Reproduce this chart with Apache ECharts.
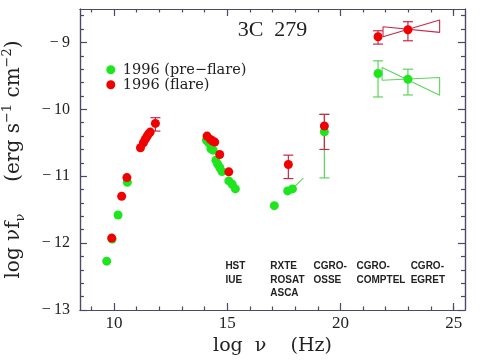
<!DOCTYPE html>
<html><head><meta charset="utf-8">
<script src="https://cdn.jsdelivr.net/npm/echarts@6/dist/echarts.min.js"></script>
<style>html,body{margin:0;padding:0;background:#fff}#c{width:483px;height:364px}</style>
</head><body><div id="c"></div>
<script>
// ---- axis ticks ----
const xMajorTicks = [10, 15, 20, 25];
const xMinorTicks = [9, 11, 12, 13, 14, 16, 17, 18, 19, 21, 22, 23, 24, 25];
const yMajorTicks = [-13, -12, -11, -10, -9];
const yMinorTicks = [-12.8, -12.6, -12.4, -12.2, -11.8, -11.6, -11.4, -11.2, -10.8, -10.6, -10.4, -10.2, -9.8, -9.6, -9.4, -9.2, -8.8, -8.6];

// ---- series names ----
const seriesNames = ['1996 (pre\u2212flare)', '1996 (flare)'];

// ---- data: [log nu, log nuFnu] ----
const preFlare = [
  [9.68, -12.27], [9.92, -11.94], [10.18, -11.58], [10.59, -11.09],
  [14.08, -10.46], [14.18, -10.50], [14.28, -10.59], [14.38, -10.61],
  [14.50, -10.76], [14.58, -10.82], [14.67, -10.87], [14.77, -10.93],
  [15.07, -11.07], [15.22, -11.12], [15.36, -11.19],
  [17.08, -11.44], [17.67, -11.22], [17.88, -11.19],
  [19.29, -10.335],
  [21.66, -9.465], [22.98, -9.55]
];
const flare = [
  [9.90, -11.925], [10.34, -11.30], [10.57, -11.02],
  [11.17, -10.575], [11.30, -10.50], [11.38, -10.45], [11.45, -10.41],
  [11.52, -10.37], [11.60, -10.34], [11.83, -10.21],
  [14.11, -10.40], [14.26, -10.45], [14.36, -10.475], [14.45, -10.49],
  [14.67, -10.675], [15.07, -10.935],
  [17.70, -10.825],
  [19.29, -10.25],
  [21.66, -8.915], [22.98, -8.81]
];
// error bars: [x, low, high]
const flareErr = [
  [11.83, -10.325, -10.125], [17.70, -11.035, -10.685], [19.29, -10.60, -10.075],
  [21.66, -9.025, -8.825], [22.98, -8.975, -8.69]
];
const preFlareErr = [
  [19.29, -11.025, -10.075], [21.66, -9.815, -9.275], [22.98, -9.785, -9.40]
];
// spectral bowties / slope
const flareBowtie = [[21.88, -8.765], [24.38, -8.85], [24.38, -8.665], [21.88, -8.915], [21.88, -8.765]];
const preFlareBowtie = [[21.84, -9.375], [24.38, -9.79], [24.38, -9.525], [21.84, -9.565], [21.84, -9.375]];
const xraySlope = [[17.88, -11.19], [18.36, -11.03]];

// instrument labels
const instNames = ['HST\nIUE', 'RXTE\nROSAT\nASCA', 'CGRO-\nOSSE', 'CGRO-\nCOMPTEL', 'CGRO-\nEGRET'];
const instX = [14.92, 16.90, 18.81, 20.71, 23.10];
const instY = [-12.25, -12.25, -12.25, -12.25, -12.25];

const titleText = '3C  279';
const xTitle = 'log  \u03bd    (Hz)';

// ---- styles ----
const AX = '#4a4a66';
const GREEN = '#1ee61e';
const RED = '#f20000';
const GREEN_L = '#5ad65a';
const RED_L = '#c8284a';
const X_MIN = 8.5, X_MAX = 25.5, Y_MIN = -13, Y_MAX = -8.5;

function fmtY(v) { return v < 0 ? '\u2212\u2009' + Math.abs(v) : String(v); }

function xAx(pos, ticks, len, labels, extra) {
  return Object.assign({
    type: 'value', min: X_MIN, max: X_MAX, position: pos,
    axisLine: { show: true, onZero: false, lineStyle: { color: AX, width: 1.2 } },
    axisTick: { show: true, inside: true, length: len, customValues: ticks, lineStyle: { color: AX, width: 1.2 } },
    axisLabel: { show: labels, customValues: ticks, margin: 5, fontFamily: 'Liberation Serif', fontSize: 17, color: '#222' },
    splitLine: { show: false }
  }, extra || {});
}
function yAx(pos, ticks, len, labels, extra) {
  return Object.assign({
    type: 'value', min: Y_MIN, max: Y_MAX, position: pos,
    axisLine: { show: true, onZero: false, lineStyle: { color: AX, width: 1.2 } },
    axisTick: { show: true, inside: true, length: len, customValues: ticks, lineStyle: { color: AX, width: 1.2 } },
    axisLabel: { show: labels, customValues: ticks, margin: 10, fontFamily: 'Liberation Serif', fontSize: 16, color: '#222', formatter: fmtY },
    splitLine: { show: false }
  }, extra || {});
}

function errRender(color) {
  return function (params, api) {
    const x = api.value(0), lo = api.value(1), hi = api.value(2);
    const a = api.coord([x, lo]), b = api.coord([x, hi]);
    const w = 5, st = { stroke: color, lineWidth: 1.2 };
    return { type: 'group', children: [
      { type: 'line', shape: { x1: a[0], y1: a[1], x2: b[0], y2: b[1] }, style: st },
      { type: 'line', shape: { x1: a[0] - w, y1: a[1], x2: a[0] + w, y2: a[1] }, style: st },
      { type: 'line', shape: { x1: b[0] - w, y1: b[1], x2: b[0] + w, y2: b[1] }, style: st }
    ]};
  };
}

const chart = echarts.init(document.getElementById('c'), null, { renderer: 'canvas' });
chart.setOption({
  animation: false,
  backgroundColor: '#fff',
  grid: { left: 80, right: 18, top: 9, bottom: 54, containLabel: false, outerBoundsMode: 'none' },
  graphic: [{
    type: 'text', x: 272.5, y: 30,
    style: { text: titleText, align: 'center', verticalAlign: 'middle', fontFamily: 'Liberation Serif', fontSize: 22, fill: '#222' }
  }],
  legend: {
    data: seriesNames, orient: 'vertical', left: 106.3, top: 62.3, padding: 0,
    itemWidth: 14, itemHeight: 9, itemGap: 0, icon: 'circle',
    textStyle: { fontFamily: 'DejaVu Serif', fontSize: 14.5, lineHeight: 13.4, color: '#222' }
  },
  xAxis: [
    xAx('bottom', xMajorTicks, 7, true, {
      name: xTitle, nameLocation: 'middle', nameGap: 27,
      nameTextStyle: { fontFamily: 'DejaVu Serif', fontSize: 19, color: '#222' }
    }),
    xAx('bottom', xMinorTicks, 3.5, false),
    xAx('top', xMajorTicks, 7, false),
    xAx('top', xMinorTicks, 3.5, false)
  ],
  yAxis: [
    yAx('left', yMajorTicks, 7, true, {
      name: '{a|log \u03bdf}{s|\u03bd}{a|     (erg s}{p|\u22121}{a| cm}{p|\u22122}{a|)}',
      nameLocation: 'middle', nameRotate: 90, nameGap: 53,
      nameTextStyle: {
        rich: {
          a: { fontFamily: 'DejaVu Serif', fontSize: 20, lineHeight: 26, color: '#222', verticalAlign: 'middle' },
          s: { fontFamily: 'DejaVu Serif', fontSize: 13, lineHeight: 13, color: '#222', verticalAlign: 'bottom' },
          p: { fontFamily: 'DejaVu Serif', fontSize: 13, lineHeight: 13, color: '#222', verticalAlign: 'top' }
        }
      }
    }),
    yAx('left', yMinorTicks, 4, false),
    yAx('right', yMajorTicks, 7, false),
    yAx('right', yMinorTicks, 4, false)
  ],
  series: [
    { type: 'custom', name: 'preErr', renderItem: errRender(GREEN_L), data: preFlareErr, encode: { x: 0, y: [1, 2] }, z: 1, silent: true },
    { type: 'custom', name: 'flareErr', renderItem: errRender(RED_L), data: flareErr, encode: { x: 0, y: [1, 2] }, z: 1, silent: true },
    { type: 'line', name: 'preBow', data: preFlareBowtie, symbol: 'none', lineStyle: { color: GREEN_L, width: 1.1 }, z: 1, silent: true },
    { type: 'line', name: 'flareBow', data: flareBowtie, symbol: 'none', lineStyle: { color: RED_L, width: 1.1 }, z: 1, silent: true },
    { type: 'line', name: 'xslope', data: xraySlope, symbol: 'none', lineStyle: { color: GREEN_L, width: 1.1 }, z: 1, silent: true },
    { type: 'scatter', name: seriesNames[0], data: preFlare, symbolSize: 9, itemStyle: { color: GREEN, opacity: 1 }, z: 3 },
    { type: 'scatter', name: seriesNames[1], data: flare, symbolSize: 9, itemStyle: { color: RED, opacity: 1 }, z: 4 },
    {
      type: 'custom', name: 'inst', silent: true, z: 5,
      data: instX.map((x, i) => [x, instY[i]]),
      encode: { x: 0, y: 1 },
      renderItem: function (params, api) {
        const p = api.coord([api.value(0), api.value(1)]);
        return { type: 'text', x: p[0], y: p[1], style: {
          text: instNames[params.dataIndex], align: 'left', verticalAlign: 'top',
          fontFamily: "'Liberation Sans Narrow', 'Liberation Sans', sans-serif", fontWeight: 'bold',
          fontSize: 10, lineHeight: 13.3, fill: '#222'
        }};
      }
    }
  ]
});
</script></body></html>
